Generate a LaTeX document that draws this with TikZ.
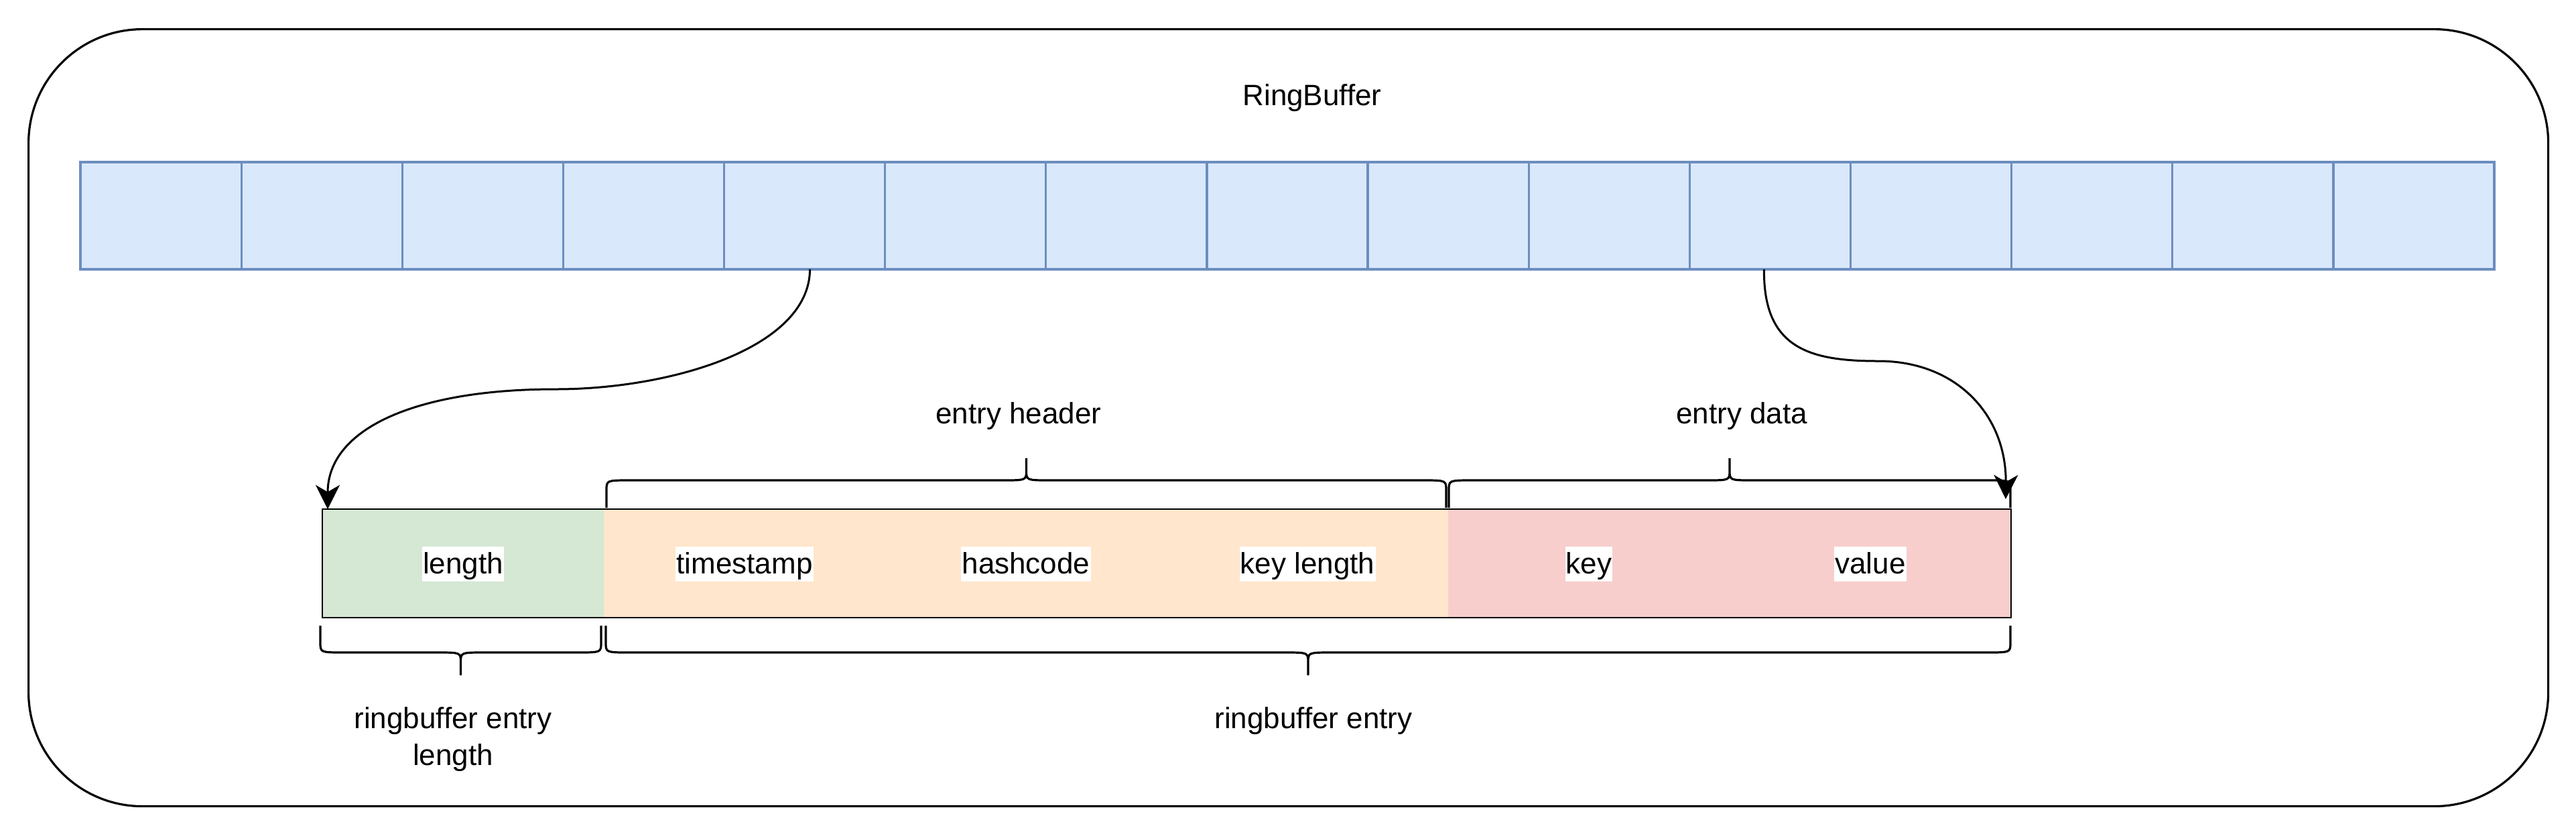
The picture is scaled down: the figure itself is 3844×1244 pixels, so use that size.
\documentclass[tikz,border=0pt]{standalone}
\usepackage{fontspec}
\setmainfont{Liberation Sans}
\usetikzlibrary{arrows.meta}
\definecolor{bluefill}{HTML}{DAE8FC}
\definecolor{blueline}{HTML}{6C8EBF}
\definecolor{greenf}{HTML}{D5E8D4}
\definecolor{orangef}{HTML}{FFE6CC}
\definecolor{redf}{HTML}{F8CECC}
\newcommand\mybrace[5]{%
  \pgfmathsetmacro\bxm{(#1+#2)/2}%
  \pgfmathsetmacro\bs{(#4<#3)?1:-1}%
  \pgfmathsetmacro\byc{#4+15*\bs}%
  \pgfmathsetmacro\byt{#4-15*\bs}%
  \draw[bracel] (#1,#3) -- (#1,\byc) .. controls (#1,#4) .. (#1+35,#4)
    -- (\bxm-35,#4) .. controls (\bxm,#4) .. (\bxm,\byt) -- (\bxm,#5)
    (\bxm,\byt) .. controls (\bxm,#4) .. (\bxm+35,#4)
    -- (#2-35,#4) .. controls (#2,#4) .. (#2,\byc) -- (#2,#3);
}
\begin{document}
\begin{tikzpicture}[x=0.25pt,y=-0.25pt,
  txt/.style={font=\fontsize{11pt}{13.75pt}\selectfont, inner sep=0pt},
  cell/.style={draw=blueline, fill=bluefill, line width=0.8pt, minimum width=60.033pt, minimum height=40pt, inner sep=0pt, outer sep=0pt, anchor=north west},
  seg/.style={draw=none, minimum width=105pt, minimum height=40.5pt, inner sep=0pt, outer sep=0pt, anchor=north west},
  lbl/.style={txt, fill=white, text height=10pt, text depth=3pt, inner xsep=0.3pt, anchor=base},
  outerbox/.style={draw=black, line width=0.8pt, rounded corners=42.5pt, minimum width=940pt, minimum height=290pt, inner sep=0pt, anchor=north west},
  bracel/.style={draw=black, line width=0.8pt, line join=round},
  arr/.style={draw=black, line width=0.75pt, -{Stealth[length=9pt,width=9pt,inset=2.6pt]}},
]
\useasboundingbox (0,0) rectangle (3844,1244);
% outer container
\node[outerbox] (rb) at (41,42) {};
\node[txt, anchor=base] (title) at (1958,157) {RingBuffer};
% ring buffer cells
\foreach \i in {1,...,15} {
  \node[cell] (c\i) at ({120+(\i-1)*240.133},242) {};
}
% entry row
\node[seg, fill=greenf]  (s1) at (481,760) {};
\node[seg, fill=orangef] (s2) at (901,760) {};
\node[seg, fill=orangef] (s3) at (1321,760) {};
\node[seg, fill=orangef] (s4) at (1741,760) {};
\node[seg, fill=redf]    (s5) at (2161,760) {};
\node[seg, fill=redf]    (s6) at (2581,760) {};
\draw[black, line width=0.65pt] (s1.north west) rectangle (s6.south east);
\node[lbl] (l1) at ([yshift=-3.75pt]s1.center) {length};
\node[lbl] (l2) at ([yshift=-3.75pt]s2.center) {timestamp};
\node[lbl] (l3) at ([yshift=-3.75pt]s3.center) {hashcode};
\node[lbl] (l4) at ([yshift=-3.75pt]s4.center) {key length};
\node[lbl] (l5) at ([yshift=-3.75pt]s5.center) {key};
\node[lbl] (l6) at ([yshift=-3.75pt]s6.center) {value};
% braces
\mybrace{905}{2158}{758}{717}{684}
\mybrace{2162}{3000}{758}{717}{684}
\mybrace{478}{897}{934}{974}{1008}
\mybrace{904}{3000}{934}{974}{1008}
\node[txt, anchor=base] (eh) at (1520,632) {entry header};
\node[txt, anchor=base] (ed) at (2599,632) {entry data};
\node[txt, anchor=base] (rel) at (676,1087) {\setlength{\tabcolsep}{0pt}\begin{tabular}[t]{c}ringbuffer entry\\length\end{tabular}};
\node[txt, anchor=base] (re) at (1960,1087) {ringbuffer entry};
% arrows
\draw[arr] ([xshift=2pt]c5.south) .. controls (1208,520) and (1000,581) .. (829,581)
  .. controls (620,581) and (489,640) .. ([xshift=2pt]s1.north west);
\draw[arr] ([xshift=-2.25pt]c11.south) .. controls (2631,520) and (2700,539) .. (2803,539)
  .. controls (2920,539) and (2994,620) .. ([xshift=-2pt,yshift=3.75pt]s6.north east);
\end{tikzpicture}
\end{document}
